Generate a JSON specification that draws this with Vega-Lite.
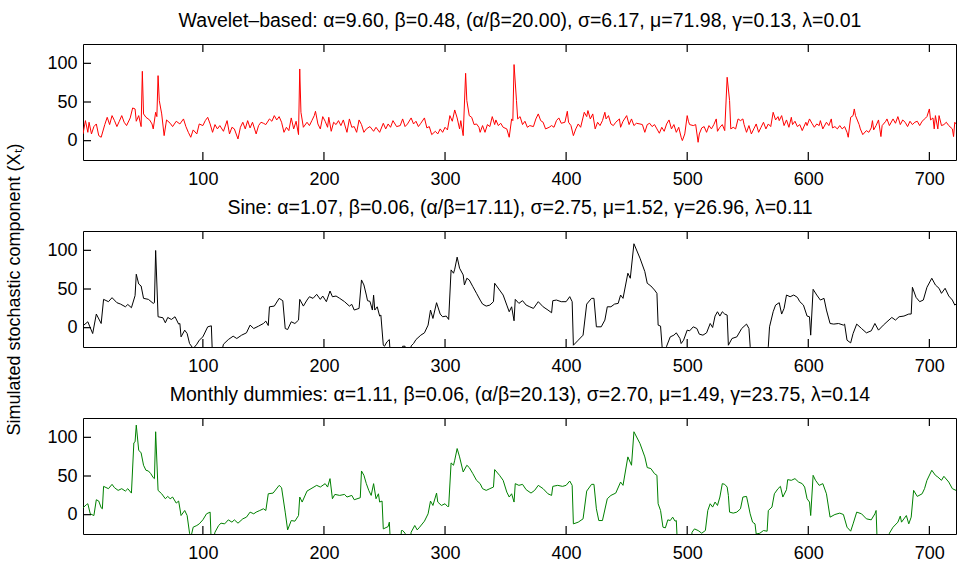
{
  "$schema": "https://vega.github.io/schema/vega-lite/v6.json",
  "padding": {"left": 5, "top": 9, "right": 0, "bottom": 0},
  "bounds": "flush",
  "spacing": 71,
  "config": {
    "font": "Liberation Sans",
    "view": {"stroke": "black", "strokeWidth": 1},
    "axis": {"labelFontSize": 18, "labelColor": "black", "labelFont": "Liberation Sans", "titleFont": "Liberation Sans", "titleFontSize": 18, "titleFontWeight": "normal", "titleColor": "black", "domain": false, "grid": false, "ticks": false}
  },
  "datasets": {
    "xticks": [{"tick":100},{"tick":200},{"tick":300},{"tick":400},{"tick":500},{"tick":600},{"tick":700}],
    "yticks": [{"tick":0},{"tick":50},{"tick":100}],
    "wavelet": [
      {"t":1,"v":8.7},{"t":3,"v":25.9},{"t":5,"v":10.8},{"t":6,"v":23.8},{"t":8,"v":8.7},{"t":10,"v":18.2},{"t":12,"v":21.6},{"t":14,"v":6.5},{"t":16,"v":4.4},{"t":19,"v":20.8},{"t":21,"v":30.2},{"t":23,"v":20.8},{"t":25,"v":32.4},{"t":27,"v":25.9},{"t":29,"v":18.2},{"t":31,"v":25.1},{"t":33,"v":32.4},{"t":35,"v":23.8},{"t":37,"v":19.5},{"t":40,"v":29.4},{"t":42,"v":42.3},{"t":44,"v":41},{"t":45,"v":25.1},{"t":47,"v":32.4},{"t":49,"v":18.2},{"t":50,"v":89.7},{"t":51,"v":34.6},{"t":53,"v":30.2},{"t":56,"v":26.8},{"t":58,"v":21.6},{"t":59,"v":15.2},{"t":61,"v":36.7},{"t":62,"v":31.1},{"t":63,"v":84.1},{"t":64,"v":51.8},{"t":66,"v":34.6},{"t":68,"v":6.5},{"t":70,"v":26.8},{"t":73,"v":22.5},{"t":75,"v":18.2},{"t":78,"v":25.1},{"t":81,"v":21.6},{"t":84,"v":28.1},{"t":86,"v":18.2},{"t":88,"v":10.8},{"t":90,"v":4.4},{"t":92,"v":13.9},{"t":95,"v":8.7},{"t":97,"v":21.6},{"t":100,"v":19.5},{"t":102,"v":25.9},{"t":104,"v":30.2},{"t":106,"v":21.6},{"t":108,"v":10.8},{"t":110,"v":20.8},{"t":112,"v":15.2},{"t":114,"v":19.5},{"t":117,"v":12.1},{"t":120,"v":25.9},{"t":122,"v":8.7},{"t":124,"v":17.3},{"t":126,"v":15.2},{"t":129,"v":2.2},{"t":131,"v":17.3},{"t":133,"v":23.8},{"t":135,"v":15.2},{"t":137,"v":25.9},{"t":139,"v":16.5},{"t":141,"v":23.8},{"t":144,"v":8.7},{"t":146,"v":19.5},{"t":148,"v":23.8},{"t":150,"v":22.5},{"t":152,"v":20.8},{"t":155,"v":28.1},{"t":157,"v":25.1},{"t":159,"v":32.4},{"t":161,"v":26.8},{"t":163,"v":31.1},{"t":165,"v":23.8},{"t":167,"v":10.8},{"t":169,"v":17.3},{"t":171,"v":13},{"t":173,"v":29.4},{"t":175,"v":15.2},{"t":177,"v":25.1},{"t":179,"v":7.8},{"t":180,"v":92.7},{"t":181,"v":36.7},{"t":183,"v":17.3},{"t":186,"v":23.8},{"t":188,"v":19.5},{"t":190,"v":25.9},{"t":192,"v":32.4},{"t":193,"v":38},{"t":195,"v":21.6},{"t":197,"v":15.2},{"t":199,"v":31.1},{"t":201,"v":25.1},{"t":203,"v":17.3},{"t":204,"v":30.2},{"t":206,"v":12.1},{"t":208,"v":23.8},{"t":210,"v":20.8},{"t":212,"v":25.9},{"t":214,"v":19.5},{"t":216,"v":26.8},{"t":219,"v":10.8},{"t":221,"v":28.1},{"t":223,"v":17.3},{"t":225,"v":18.2},{"t":227,"v":10.8},{"t":229,"v":26.8},{"t":231,"v":20.8},{"t":233,"v":10.8},{"t":235,"v":15.2},{"t":238,"v":18.2},{"t":241,"v":12.1},{"t":243,"v":17.3},{"t":246,"v":10.8},{"t":249,"v":22.5},{"t":251,"v":15.2},{"t":253,"v":21.6},{"t":255,"v":17.3},{"t":257,"v":25.9},{"t":260,"v":18.2},{"t":263,"v":19.5},{"t":265,"v":28.1},{"t":267,"v":18.2},{"t":269,"v":21.6},{"t":272,"v":29.4},{"t":274,"v":21.6},{"t":276,"v":25.1},{"t":278,"v":18.2},{"t":280,"v":22.5},{"t":283,"v":29.4},{"t":285,"v":16.5},{"t":287,"v":18.2},{"t":289,"v":7.8},{"t":292,"v":12.1},{"t":294,"v":8.7},{"t":296,"v":15.2},{"t":298,"v":10.8},{"t":300,"v":17.3},{"t":302,"v":13.9},{"t":304,"v":32.4},{"t":306,"v":25.1},{"t":308,"v":39.7},{"t":310,"v":29.4},{"t":312,"v":15.2},{"t":313,"v":25.9},{"t":315,"v":6.5},{"t":317,"v":87.1},{"t":318,"v":51.8},{"t":320,"v":32.4},{"t":322,"v":30.2},{"t":324,"v":20.8},{"t":326,"v":21.6},{"t":328,"v":17.3},{"t":329,"v":10.8},{"t":331,"v":19.5},{"t":333,"v":10.8},{"t":335,"v":20.8},{"t":337,"v":18.2},{"t":339,"v":31.1},{"t":341,"v":20.8},{"t":342,"v":26.8},{"t":344,"v":19.5},{"t":346,"v":22.5},{"t":348,"v":17.3},{"t":351,"v":15.2},{"t":353,"v":4.4},{"t":355,"v":28.1},{"t":356,"v":25.9},{"t":357,"v":98.4},{"t":359,"v":51.8},{"t":360,"v":28.1},{"t":362,"v":31.1},{"t":364,"v":20.8},{"t":366,"v":25.1},{"t":368,"v":17.3},{"t":370,"v":19.5},{"t":373,"v":18.2},{"t":375,"v":28.1},{"t":377,"v":34.6},{"t":379,"v":25.9},{"t":381,"v":23.8},{"t":383,"v":15.2},{"t":386,"v":17.3},{"t":388,"v":19.5},{"t":390,"v":17.3},{"t":392,"v":25.9},{"t":394,"v":29.4},{"t":396,"v":22.5},{"t":399,"v":23.8},{"t":401,"v":38},{"t":402,"v":23.8},{"t":404,"v":19.5},{"t":406,"v":6.5},{"t":408,"v":15.2},{"t":410,"v":21.6},{"t":412,"v":17.3},{"t":415,"v":36.7},{"t":417,"v":31.1},{"t":418,"v":38.9},{"t":420,"v":28.1},{"t":422,"v":34.6},{"t":424,"v":15.2},{"t":426,"v":23.8},{"t":428,"v":19.5},{"t":430,"v":25.9},{"t":432,"v":36.7},{"t":433,"v":28.1},{"t":435,"v":32.4},{"t":437,"v":21.6},{"t":439,"v":19.5},{"t":441,"v":23.8},{"t":444,"v":28.1},{"t":445,"v":17.3},{"t":447,"v":25.1},{"t":450,"v":32.4},{"t":452,"v":20.8},{"t":454,"v":28.1},{"t":456,"v":19.5},{"t":458,"v":22.5},{"t":461,"v":21.6},{"t":463,"v":20.8},{"t":465,"v":10.8},{"t":467,"v":20.8},{"t":469,"v":22.5},{"t":471,"v":18.2},{"t":473,"v":20.8},{"t":475,"v":15.2},{"t":477,"v":9.6},{"t":479,"v":17.3},{"t":481,"v":12.1},{"t":483,"v":21.6},{"t":485,"v":26.8},{"t":487,"v":15.2},{"t":489,"v":20.8},{"t":491,"v":10.8},{"t":493,"v":17.3},{"t":495,"v":4.4},{"t":496,"v":0.1},{"t":498,"v":8.7},{"t":500,"v":32.4},{"t":501,"v":25.1},{"t":502,"v":20.8},{"t":505,"v":19.5},{"t":507,"v":20.8},{"t":509,"v":-2.1},{"t":510,"v":8.7},{"t":512,"v":16.5},{"t":514,"v":18.2},{"t":516,"v":10.8},{"t":518,"v":19.5},{"t":520,"v":15.2},{"t":522,"v":20.8},{"t":524,"v":28.1},{"t":525,"v":12.1},{"t":527,"v":17.3},{"t":529,"v":20.8},{"t":531,"v":13},{"t":533,"v":82},{"t":535,"v":51.8},{"t":536,"v":15.2},{"t":538,"v":17.3},{"t":540,"v":15.2},{"t":542,"v":28.1},{"t":544,"v":25.9},{"t":546,"v":28.1},{"t":547,"v":20.8},{"t":549,"v":10.8},{"t":551,"v":19.5},{"t":553,"v":8.7},{"t":555,"v":15.2},{"t":557,"v":21.6},{"t":559,"v":10.8},{"t":561,"v":17.3},{"t":563,"v":23.8},{"t":565,"v":15.2},{"t":567,"v":21.6},{"t":569,"v":18.2},{"t":571,"v":36.7},{"t":573,"v":26.8},{"t":575,"v":31.1},{"t":576,"v":25.9},{"t":578,"v":32.4},{"t":580,"v":19.5},{"t":582,"v":26.8},{"t":584,"v":17.3},{"t":586,"v":30.2},{"t":587,"v":20.8},{"t":589,"v":25.1},{"t":591,"v":18.2},{"t":593,"v":20.8},{"t":595,"v":13},{"t":598,"v":23.8},{"t":599,"v":19.5},{"t":601,"v":28.1},{"t":603,"v":22.5},{"t":605,"v":17.3},{"t":607,"v":21.6},{"t":609,"v":19.5},{"t":610,"v":25.9},{"t":612,"v":15.2},{"t":615,"v":23.8},{"t":617,"v":19.5},{"t":619,"v":28.1},{"t":620,"v":16.5},{"t":622,"v":18.2},{"t":624,"v":15.2},{"t":626,"v":19.5},{"t":628,"v":15.2},{"t":630,"v":18.2},{"t":632,"v":10.8},{"t":633,"v":4.4},{"t":635,"v":30.2},{"t":637,"v":32.4},{"t":638,"v":41},{"t":639,"v":32.4},{"t":642,"v":20.8},{"t":643,"v":15.2},{"t":645,"v":7.8},{"t":648,"v":13},{"t":650,"v":10.8},{"t":652,"v":16.5},{"t":653,"v":25.9},{"t":654,"v":13.9},{"t":656,"v":19.5},{"t":658,"v":26.8},{"t":660,"v":5.3},{"t":661,"v":19.5},{"t":664,"v":25.1},{"t":665,"v":28.1},{"t":667,"v":19.5},{"t":670,"v":28.1},{"t":672,"v":22.5},{"t":674,"v":31.1},{"t":676,"v":20.8},{"t":678,"v":26.8},{"t":680,"v":23.8},{"t":682,"v":18.2},{"t":684,"v":25.1},{"t":686,"v":20.8},{"t":688,"v":23.8},{"t":690,"v":25.1},{"t":692,"v":19.5},{"t":694,"v":25.1},{"t":697,"v":29.4},{"t":698,"v":31.1},{"t":700,"v":41},{"t":701,"v":26.8},{"t":703,"v":29.4},{"t":704,"v":15.2},{"t":705,"v":32.4},{"t":707,"v":15.2},{"t":708,"v":32.4},{"t":710,"v":19.5},{"t":712,"v":20.8},{"t":714,"v":23.8},{"t":716,"v":19.5},{"t":719,"v":15.2},{"t":720,"v":5.3},{"t":721,"v":23.8},{"t":722,"v":21.6}
    ],
    "sine": [
      {"t":1,"v":2.4},{"t":5,"v":7.6},{"t":9,"v":-7.6},{"t":12,"v":17.6},{"t":16,"v":5.4},{"t":18,"v":36.6},{"t":22,"v":33.6},{"t":25,"v":38.8},{"t":29,"v":32.3},{"t":32,"v":30.5},{"t":36,"v":27},{"t":38,"v":30},{"t":41,"v":25.8},{"t":44,"v":41.4},{"t":45,"v":69.1},{"t":47,"v":56.5},{"t":49,"v":53.9},{"t":51,"v":37.9},{"t":55,"v":36.6},{"t":59,"v":31.4},{"t":60,"v":32.3},{"t":61,"v":99.8},{"t":63,"v":14.1},{"t":67,"v":12.8},{"t":69,"v":6.3},{"t":71,"v":13.2},{"t":74,"v":10.6},{"t":77,"v":14.1},{"t":80,"v":4.6},{"t":81,"v":5.4},{"t":82,"v":-11.9},{"t":85,"v":-3.2},{"t":87,"v":-7.6},{"t":89,"v":-20.5},{"t":92,"v":-27},{"t":95,"v":-21.4},{"t":97,"v":-16.2},{"t":100,"v":-11.9},{"t":104,"v":1.1},{"t":107,"v":2.4},{"t":108,"v":-40},{"t":116,"v":-28},{"t":117,"v":-21.4},{"t":121,"v":-15.4},{"t":125,"v":-11},{"t":128,"v":-14},{"t":132,"v":-9.7},{"t":136,"v":-6.7},{"t":139,"v":3.3},{"t":142,"v":-1.1},{"t":146,"v":2},{"t":150,"v":5.4},{"t":152,"v":8.5},{"t":154,"v":2.8},{"t":155,"v":27},{"t":159,"v":27.9},{"t":163,"v":37.9},{"t":166,"v":34.9},{"t":168,"v":-1.1},{"t":170,"v":-2.4},{"t":173,"v":7.6},{"t":176,"v":5.4},{"t":179,"v":9.8},{"t":180,"v":36.6},{"t":183,"v":27.9},{"t":186,"v":35.7},{"t":188,"v":40},{"t":191,"v":37.9},{"t":194,"v":43.1},{"t":197,"v":36.6},{"t":199,"v":40.9},{"t":202,"v":33.6},{"t":205,"v":47.4},{"t":207,"v":40},{"t":210,"v":40.9},{"t":213,"v":37.9},{"t":217,"v":33.6},{"t":221,"v":27.9},{"t":223,"v":30.1},{"t":225,"v":22.8},{"t":229,"v":24.9},{"t":231,"v":61.7},{"t":233,"v":55.2},{"t":235,"v":42.2},{"t":236,"v":34.9},{"t":238,"v":34},{"t":240,"v":22.8},{"t":241,"v":42},{"t":242,"v":22.8},{"t":244,"v":27},{"t":246,"v":15},{"t":247,"v":16.3},{"t":249,"v":-22.7},{"t":250,"v":-24},{"t":252,"v":-18.4},{"t":254,"v":-15.4},{"t":255,"v":-40},{"t":264,"v":-40},{"t":265,"v":-24},{"t":267,"v":-24},{"t":268,"v":-40},{"t":271,"v":-40},{"t":272,"v":-23.6},{"t":274,"v":-20.5},{"t":276,"v":-15.4},{"t":280,"v":-9.7},{"t":283,"v":-6.7},{"t":286,"v":3.3},{"t":288,"v":22.8},{"t":290,"v":11.9},{"t":293,"v":32.3},{"t":296,"v":17.6},{"t":298,"v":14.1},{"t":301,"v":15},{"t":303,"v":10.6},{"t":305,"v":74.7},{"t":307,"v":70.4},{"t":308,"v":75.6},{"t":310,"v":91.2},{"t":312,"v":76.9},{"t":315,"v":68.2},{"t":316,"v":55.2},{"t":318,"v":63.9},{"t":320,"v":61.7},{"t":323,"v":53},{"t":326,"v":44.4},{"t":329,"v":35.7},{"t":331,"v":30.5},{"t":334,"v":27.9},{"t":337,"v":29.2},{"t":340,"v":33.6},{"t":341,"v":57.4},{"t":345,"v":48.7},{"t":348,"v":42.2},{"t":351,"v":29.2},{"t":353,"v":20.6},{"t":355,"v":27},{"t":357,"v":8.9},{"t":358,"v":36.6},{"t":361,"v":31.4},{"t":364,"v":34.9},{"t":367,"v":29.2},{"t":370,"v":27},{"t":373,"v":24.9},{"t":377,"v":33.6},{"t":381,"v":27},{"t":385,"v":22.8},{"t":388,"v":19.3},{"t":389,"v":34.9},{"t":392,"v":35.7},{"t":396,"v":33.6},{"t":400,"v":33.6},{"t":403,"v":40.1},{"t":405,"v":33.6},{"t":406,"v":-22.7},{"t":410,"v":-16.2},{"t":414,"v":-9.7},{"t":417,"v":30.5},{"t":421,"v":37.9},{"t":423,"v":37.9},{"t":425,"v":1.1},{"t":429,"v":1.1},{"t":432,"v":9.8},{"t":434,"v":27},{"t":437,"v":27},{"t":440,"v":30.5},{"t":443,"v":31.4},{"t":445,"v":42.2},{"t":447,"v":37.9},{"t":451,"v":70.4},{"t":453,"v":63.9},{"t":456,"v":108.5},{"t":461,"v":89.9},{"t":465,"v":72.5},{"t":467,"v":57.4},{"t":470,"v":53.9},{"t":473,"v":48.7},{"t":475,"v":44.4},{"t":476,"v":3.3},{"t":478,"v":2},{"t":480,"v":-40},{"t":482,"v":-40},{"t":483,"v":-24},{"t":486,"v":-11.9},{"t":489,"v":-9.7},{"t":491,"v":-6.7},{"t":494,"v":-14},{"t":495,"v":-20.5},{"t":497,"v":-16.2},{"t":500,"v":-3.2},{"t":502,"v":-4.1},{"t":505,"v":1.1},{"t":508,"v":-1.1},{"t":510,"v":-8.4},{"t":513,"v":-9.7},{"t":516,"v":-6.7},{"t":519,"v":5.4},{"t":521,"v":0.2},{"t":523,"v":15},{"t":525,"v":20.6},{"t":527,"v":15},{"t":529,"v":20.6},{"t":531,"v":17.6},{"t":533,"v":16.3},{"t":534,"v":-22.7},{"t":537,"v":-14},{"t":541,"v":-11.9},{"t":545,"v":-1.1},{"t":549,"v":4.6},{"t":551,"v":-1.1},{"t":552,"v":-24},{"t":553,"v":-40},{"t":566,"v":-40},{"t":567,"v":-24},{"t":568,"v":1.1},{"t":571,"v":20.6},{"t":573,"v":29.2},{"t":576,"v":32.3},{"t":578,"v":17.6},{"t":580,"v":24.9},{"t":582,"v":42.2},{"t":585,"v":40},{"t":588,"v":42.2},{"t":591,"v":39.2},{"t":593,"v":33.6},{"t":596,"v":29.2},{"t":599,"v":15},{"t":601,"v":14.1},{"t":602,"v":-9.7},{"t":604,"v":49.6},{"t":607,"v":42.2},{"t":610,"v":35.7},{"t":613,"v":37.9},{"t":615,"v":22.8},{"t":618,"v":5.4},{"t":621,"v":4.6},{"t":625,"v":5.4},{"t":629,"v":3.3},{"t":630,"v":4.6},{"t":632,"v":-16.2},{"t":635,"v":-19.7},{"t":637,"v":-7.6},{"t":640,"v":4.6},{"t":644,"v":-1.1},{"t":648,"v":-6.7},{"t":652,"v":-4.1},{"t":655,"v":5.4},{"t":658,"v":-3.2},{"t":662,"v":3.3},{"t":665,"v":7.6},{"t":669,"v":13.2},{"t":672,"v":9.8},{"t":675,"v":14.1},{"t":679,"v":15},{"t":683,"v":17.6},{"t":685,"v":17.6},{"t":686,"v":52.2},{"t":689,"v":39.2},{"t":692,"v":33.6},{"t":695,"v":35.7},{"t":698,"v":52.2},{"t":702,"v":63.9},{"t":705,"v":55.2},{"t":708,"v":50.9},{"t":710,"v":44.4},{"t":713,"v":50.9},{"t":716,"v":41},{"t":719,"v":35.7},{"t":721,"v":29.2},{"t":722,"v":30.5}
    ],
    "monthly": [
      {"t":1,"v":8.9},{"t":4,"v":13.2},{"t":5,"v":14.1},{"t":7,"v":1.1},{"t":10,"v":-1.1},{"t":12,"v":19.3},{"t":14,"v":17.6},{"t":16,"v":8.9},{"t":17,"v":7.6},{"t":18,"v":36.6},{"t":22,"v":33.6},{"t":25,"v":39.2},{"t":27,"v":34.9},{"t":30,"v":31.4},{"t":33,"v":33.6},{"t":36,"v":30.5},{"t":38,"v":33.6},{"t":41,"v":27.9},{"t":43,"v":92.9},{"t":44,"v":94.2},{"t":45,"v":115.8},{"t":47,"v":83.4},{"t":49,"v":79.9},{"t":51,"v":63.9},{"t":53,"v":57.4},{"t":55,"v":56.5},{"t":57,"v":53},{"t":59,"v":47.9},{"t":60,"v":46.6},{"t":61,"v":107.2},{"t":63,"v":31.4},{"t":66,"v":27},{"t":69,"v":20.6},{"t":71,"v":23.6},{"t":73,"v":20.6},{"t":75,"v":22.8},{"t":78,"v":15},{"t":80,"v":17.6},{"t":82,"v":-1.1},{"t":85,"v":5.4},{"t":87,"v":-1.1},{"t":89,"v":-24},{"t":90,"v":-30},{"t":92,"v":-16.2},{"t":95,"v":-14},{"t":97,"v":-11.9},{"t":100,"v":-6.7},{"t":103,"v":1.1},{"t":106,"v":3.3},{"t":107,"v":-40},{"t":109,"v":-30},{"t":110,"v":-22.7},{"t":113,"v":-14},{"t":115,"v":-11},{"t":118,"v":-11.9},{"t":121,"v":-6.7},{"t":124,"v":-9.7},{"t":126,"v":-6.7},{"t":129,"v":-11},{"t":133,"v":-5.4},{"t":136,"v":-3.2},{"t":139,"v":3.3},{"t":142,"v":1.1},{"t":144,"v":3.3},{"t":147,"v":5.4},{"t":150,"v":7.6},{"t":152,"v":5.4},{"t":154,"v":27},{"t":158,"v":27.9},{"t":163,"v":37.9},{"t":165,"v":34.9},{"t":168,"v":3.3},{"t":170,"v":-19.7},{"t":173,"v":-7.6},{"t":176,"v":-8.4},{"t":179,"v":-1.1},{"t":180,"v":22.8},{"t":182,"v":16.3},{"t":186,"v":30.5},{"t":194,"v":37.9},{"t":197,"v":35.7},{"t":201,"v":40.1},{"t":203,"v":35.7},{"t":205,"v":46.6},{"t":207,"v":20.6},{"t":209,"v":26.2},{"t":213,"v":24.9},{"t":217,"v":26.2},{"t":219,"v":22.8},{"t":223,"v":24.9},{"t":225,"v":19.3},{"t":230,"v":21.9},{"t":231,"v":56.5},{"t":233,"v":50.9},{"t":235,"v":40.1},{"t":237,"v":31.4},{"t":239,"v":24.9},{"t":241,"v":40.1},{"t":243,"v":20.6},{"t":245,"v":27},{"t":246,"v":16.3},{"t":248,"v":17.6},{"t":249,"v":-18.4},{"t":253,"v":-15.4},{"t":254,"v":-9.7},{"t":255,"v":-40},{"t":263,"v":-40},{"t":264,"v":-20.5},{"t":265,"v":-20.5},{"t":267,"v":-24},{"t":268,"v":-40},{"t":271,"v":-40},{"t":272,"v":-22.7},{"t":275,"v":-14},{"t":277,"v":-19.7},{"t":279,"v":-16.2},{"t":283,"v":-8.4},{"t":286,"v":1.1},{"t":288,"v":17.6},{"t":290,"v":11.9},{"t":293,"v":27.9},{"t":294,"v":16.3},{"t":297,"v":11.9},{"t":300,"v":14.1},{"t":302,"v":10.6},{"t":303,"v":10.6},{"t":305,"v":66.9},{"t":307,"v":63.9},{"t":308,"v":70.4},{"t":310,"v":85.5},{"t":312,"v":74.7},{"t":315,"v":55.2},{"t":318,"v":63.9},{"t":320,"v":60.9},{"t":323,"v":53},{"t":326,"v":44.4},{"t":329,"v":40.1},{"t":331,"v":33.6},{"t":334,"v":31.4},{"t":337,"v":33.6},{"t":340,"v":35.7},{"t":341,"v":58.3},{"t":345,"v":50.9},{"t":348,"v":44.4},{"t":351,"v":29.2},{"t":353,"v":22.8},{"t":355,"v":27},{"t":357,"v":16.3},{"t":358,"v":40.1},{"t":361,"v":37.9},{"t":364,"v":39.2},{"t":367,"v":32.3},{"t":371,"v":27.9},{"t":374,"v":31.4},{"t":377,"v":37.9},{"t":381,"v":33.6},{"t":385,"v":27},{"t":388,"v":24.9},{"t":389,"v":36.6},{"t":393,"v":37.9},{"t":397,"v":36.6},{"t":400,"v":37.9},{"t":403,"v":43.5},{"t":405,"v":37.9},{"t":406,"v":-11.9},{"t":410,"v":-9.7},{"t":414,"v":-5.4},{"t":417,"v":30.5},{"t":421,"v":39.2},{"t":423,"v":39.2},{"t":425,"v":7.6},{"t":427,"v":-7.6},{"t":430,"v":-7.6},{"t":434,"v":20.6},{"t":437,"v":24.9},{"t":441,"v":27.9},{"t":445,"v":42.2},{"t":447,"v":37.9},{"t":451,"v":74.7},{"t":454,"v":63.9},{"t":456,"v":107.2},{"t":461,"v":92},{"t":465,"v":74.7},{"t":467,"v":60.9},{"t":470,"v":59.6},{"t":473,"v":53},{"t":475,"v":50.9},{"t":476,"v":14.1},{"t":478,"v":5.4},{"t":480,"v":-16.2},{"t":482,"v":-17},{"t":484,"v":-6.7},{"t":486,"v":-7.6},{"t":488,"v":-3.2},{"t":490,"v":-8.4},{"t":491,"v":-7.6},{"t":492,"v":-40},{"t":503,"v":-40},{"t":504,"v":-22.7},{"t":506,"v":-18.4},{"t":509,"v":-20.5},{"t":512,"v":-24},{"t":515,"v":-20.5},{"t":517,"v":5.4},{"t":519,"v":14.1},{"t":521,"v":9.8},{"t":523,"v":16.3},{"t":525,"v":11.9},{"t":527,"v":22.8},{"t":529,"v":40.1},{"t":531,"v":39.2},{"t":533,"v":35.7},{"t":534,"v":24.9},{"t":535,"v":3.3},{"t":538,"v":2},{"t":541,"v":3.3},{"t":544,"v":7.6},{"t":546,"v":22.8},{"t":549,"v":23.6},{"t":550,"v":16.3},{"t":552,"v":1.1},{"t":554,"v":-9.7},{"t":556,"v":-11.9},{"t":557,"v":-25},{"t":560,"v":-24},{"t":563,"v":-20.5},{"t":566,"v":-21.4},{"t":567,"v":5.4},{"t":570,"v":9.8},{"t":572,"v":27},{"t":575,"v":33.6},{"t":577,"v":36.6},{"t":579,"v":22.8},{"t":582,"v":32.3},{"t":583,"v":45.3},{"t":586,"v":44.4},{"t":589,"v":46.6},{"t":592,"v":42.2},{"t":595,"v":40.1},{"t":597,"v":35.7},{"t":599,"v":20.6},{"t":601,"v":16.3},{"t":602,"v":-1.1},{"t":604,"v":50.9},{"t":606,"v":44.4},{"t":609,"v":37.9},{"t":612,"v":40.1},{"t":615,"v":27},{"t":618,"v":-3.2},{"t":622,"v":0.2},{"t":626,"v":2},{"t":629,"v":0.2},{"t":632,"v":-16.2},{"t":635,"v":-21.4},{"t":637,"v":-11.9},{"t":640,"v":3.3},{"t":644,"v":1.1},{"t":648,"v":-5.4},{"t":652,"v":-6.7},{"t":655,"v":1.1},{"t":656,"v":5.4},{"t":657,"v":-40},{"t":666,"v":-40},{"t":667,"v":-24},{"t":670,"v":-16.2},{"t":674,"v":-9.7},{"t":676,"v":-1.8},{"t":677,"v":-9.7},{"t":681,"v":-1.1},{"t":683,"v":-11.9},{"t":685,"v":-3.2},{"t":687,"v":31.4},{"t":690,"v":23.6},{"t":694,"v":27},{"t":696,"v":33.6},{"t":698,"v":44.4},{"t":702,"v":57.4},{"t":705,"v":50.9},{"t":707,"v":48.7},{"t":710,"v":44.4},{"t":712,"v":49.6},{"t":716,"v":42.2},{"t":719,"v":33.6},{"t":722,"v":31.4}
    ]
  },
  "vconcat": [
    {
      "width": 873, "height": 116,
      "layer": [
        {"data": {"name": "wavelet"}, "mark": {"type": "line", "color": "#ff0000", "strokeWidth": 1, "clip": true},
         "encoding": {
           "x": {"field": "t", "type": "quantitative", "scale": {"domain": [1, 722], "nice": false, "zero": false}, "axis": {"orient": "bottom", "values": [100,200,300,400,500,600,700], "labelPadding": 10, "title": null}},
           "y": {"field": "v", "type": "quantitative", "scale": {"domain": [-25, 125], "nice": false, "zero": false}, "axis": {"values": [0,50,100], "labelPadding": 6, "title": null}}
         }},
        {"data": {"name": "xticks"}, "mark": {"type": "tick", "orient": "vertical", "size": 8, "thickness": 1.2, "color": "#000000", "opacity": 1},
         "encoding": {
           "x": {"field": "tick", "type": "quantitative", "axis": {"orient": "top", "labels": false, "title": "Wavelet–based: α=9.60, β=0.48, (α/β=20.00), σ=6.17, μ=71.98, γ=0.13, λ=0.01", "titleFontSize": 19.5, "titlePadding": 14}},
           "y": {"datum": -19.83, "axis": null}
         }},
        {"data": {"name": "xticks"}, "mark": {"type": "tick", "orient": "vertical", "size": 8, "thickness": 1.2, "color": "#000000", "opacity": 1},
         "encoding": {
           "x": {"field": "tick", "type": "quantitative", "axis": null},
           "y": {"datum": 119.83, "axis": null}
         }},
        {"data": {"name": "yticks"}, "mark": {"type": "tick", "orient": "horizontal", "size": 8, "thickness": 1.2, "color": "#000000", "opacity": 1},
         "encoding": {
           "x": {"datum": 4.3, "axis": null},
           "y": {"field": "tick", "type": "quantitative", "axis": null}
         }}
      ],
      "resolve": {"axis": {"x": "independent", "y": "independent"}}
    },
    {
      "width": 873, "height": 116,
      "layer": [
        {"data": {"name": "sine"}, "mark": {"type": "line", "color": "#000000", "strokeWidth": 1, "clip": true},
         "encoding": {
           "x": {"field": "t", "type": "quantitative", "scale": {"domain": [1, 722], "nice": false, "zero": false}, "axis": {"orient": "bottom", "values": [100,200,300,400,500,600,700], "labelPadding": 10, "title": null}},
           "y": {"field": "v", "type": "quantitative", "scale": {"domain": [-25, 125], "nice": false, "zero": false}, "axis": {"values": [0,50,100], "labelPadding": 6, "title": "Simulated stochastic component (Xₜ)", "titlePadding": 23}}
         }},
        {"data": {"name": "xticks"}, "mark": {"type": "tick", "orient": "vertical", "size": 8, "thickness": 1.2, "color": "#000000", "opacity": 1},
         "encoding": {
           "x": {"field": "tick", "type": "quantitative", "axis": {"orient": "top", "labels": false, "title": "Sine: α=1.07, β=0.06, (α/β=17.11), σ=2.75, μ=1.52, γ=26.96, λ=0.11", "titleFontSize": 19.5, "titlePadding": 14}},
           "y": {"datum": -19.83, "axis": null}
         }},
        {"data": {"name": "xticks"}, "mark": {"type": "tick", "orient": "vertical", "size": 8, "thickness": 1.2, "color": "#000000", "opacity": 1},
         "encoding": {
           "x": {"field": "tick", "type": "quantitative", "axis": null},
           "y": {"datum": 119.83, "axis": null}
         }},
        {"data": {"name": "yticks"}, "mark": {"type": "tick", "orient": "horizontal", "size": 8, "thickness": 1.2, "color": "#000000", "opacity": 1},
         "encoding": {
           "x": {"datum": 4.3, "axis": null},
           "y": {"field": "tick", "type": "quantitative", "axis": null}
         }}
      ],
      "resolve": {"axis": {"x": "independent", "y": "independent"}}
    },
    {
      "width": 873, "height": 116,
      "layer": [
        {"data": {"name": "monthly"}, "mark": {"type": "line", "color": "#008000", "strokeWidth": 1, "clip": true},
         "encoding": {
           "x": {"field": "t", "type": "quantitative", "scale": {"domain": [1, 722], "nice": false, "zero": false}, "axis": {"orient": "bottom", "values": [100,200,300,400,500,600,700], "labelPadding": 10, "title": null}},
           "y": {"field": "v", "type": "quantitative", "scale": {"domain": [-25, 125], "nice": false, "zero": false}, "axis": {"values": [0,50,100], "labelPadding": 6, "title": null}}
         }},
        {"data": {"name": "xticks"}, "mark": {"type": "tick", "orient": "vertical", "size": 8, "thickness": 1.2, "color": "#000000", "opacity": 1},
         "encoding": {
           "x": {"field": "tick", "type": "quantitative", "axis": {"orient": "top", "labels": false, "title": "Monthly dummies: α=1.11, β=0.06, (α/β=20.13), σ=2.70, μ=1.49, γ=23.75, λ=0.14", "titleFontSize": 19.5, "titlePadding": 14}},
           "y": {"datum": -19.83, "axis": null}
         }},
        {"data": {"name": "xticks"}, "mark": {"type": "tick", "orient": "vertical", "size": 8, "thickness": 1.2, "color": "#000000", "opacity": 1},
         "encoding": {
           "x": {"field": "tick", "type": "quantitative", "axis": null},
           "y": {"datum": 119.83, "axis": null}
         }},
        {"data": {"name": "yticks"}, "mark": {"type": "tick", "orient": "horizontal", "size": 8, "thickness": 1.2, "color": "#000000", "opacity": 1},
         "encoding": {
           "x": {"datum": 4.3, "axis": null},
           "y": {"field": "tick", "type": "quantitative", "axis": null}
         }}
      ],
      "resolve": {"axis": {"x": "independent", "y": "independent"}}
    }
  ]
}
